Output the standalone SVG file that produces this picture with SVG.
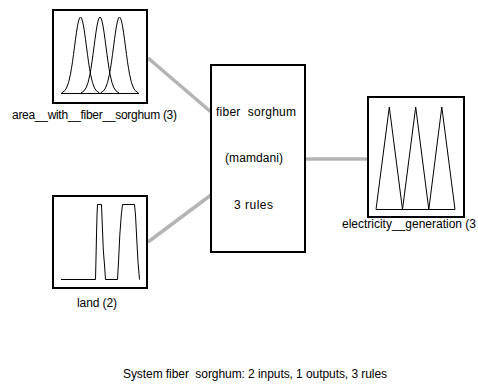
<svg xmlns="http://www.w3.org/2000/svg" xmlns:xlink="http://www.w3.org/1999/xlink" width="478" height="385" viewBox="0 0 478 385">
<style>
  .box { fill: #ffffff; stroke: #000000; stroke-width: 2; }
  .mf { fill: none; stroke: #000000; stroke-width: 1; }
  .conn { stroke: #b4b4b4; stroke-width: 3.5; fill: none; }
  text { font-family: "Liberation Sans", Arial, sans-serif; font-size: 12px; fill: #000000; white-space: pre; }
</style>
<defs>
  <path id="gauss" class="mf" d="M-19,93 L-16,90.9 L-14,88 L-12,82.7 L-10,74.1 L-9,68.3 L-8,61.8 L-7,54.5 L-6,46.9 L-5,39.3 L-4,32.1 L-3,25.9 L-2,21.1 L-1,18.1 L0,17 L1,18.1 L2,21.1 L3,25.9 L4,32.1 L5,39.3 L6,46.9 L7,54.5 L8,61.8 L9,68.3 L10,74.1 L12,82.7 L14,88 L16,90.9 L19,93"/>
</defs>
<rect width="478" height="385" fill="#ffffff"/>
<g id="connectors">
  <line class="conn" x1="148" y1="58" x2="211" y2="112"/>
  <line class="conn" x1="148" y1="242" x2="211" y2="195"/>
  <line class="conn" x1="305" y1="159" x2="368" y2="159"/>
</g>
<g id="input1">
  <rect class="box" x="53" y="10" width="94" height="93"/>
  <line class="mf" x1="61" y1="93.5" x2="139" y2="93.5"/>
  <use xlink:href="#gauss" transform="translate(80.5,0)"/>
  <use xlink:href="#gauss" transform="translate(100,0)"/>
  <use xlink:href="#gauss" transform="translate(119.5,0)"/>
  <text x="12" y="119" textLength="165">area__with__fiber__sorghum (3)</text>
</g>
<g id="input2">
  <rect class="box" x="53" y="196" width="94" height="92"/>
  <polyline class="mf" points="61,279.5 95.5,279.5 95.9,263 96.5,235 97,215 97.5,204.5 101.5,204.5 102.3,225 103.3,250 104.5,265 105.5,279.5 117.5,279.5 118.5,262 119.8,235 121.3,215 122.5,204.5 134.5,204.5 135.5,215 136.8,240 138,262 139.5,279.5"/>
  <text x="77" y="306.5" textLength="40">land (2)</text>
</g>
<g id="system">
  <rect class="box" x="211" y="65" width="94" height="187"/>
  <text x="216" y="116" textLength="80">fiber  sorghum</text>
  <text x="225" y="162" textLength="58">(mamdani)</text>
  <text x="234" y="209" textLength="39">3 rules</text>
</g>
<g id="output1">
  <rect class="box" x="368" y="97" width="96" height="120"/>
  <line class="mf" x1="376" y1="209.5" x2="455" y2="209.5"/>
  <polyline class="mf" points="376,209.5 389.3,107 402.5,209.5 415.7,107 428.8,209.5 441.8,107 455,209.5"/>
  <text x="342" y="228" textLength="134">electricity__generation (3</text>
</g>
<text x="123" y="378" textLength="264">System fiber  sorghum: 2 inputs, 1 outputs, 3 rules</text>
</svg>
